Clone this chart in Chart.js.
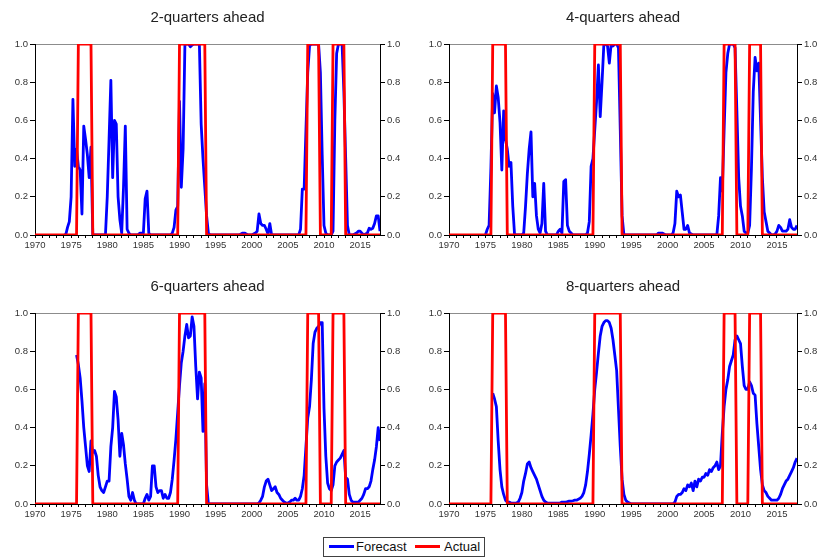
<!DOCTYPE html>
<html>
<head>
<meta charset="utf-8">
<title>Recession probability forecasts</title>
<script src="https://cdn.jsdelivr.net/npm/chart.js@4.4.1/dist/chart.umd.min.js"></script>
<style>
  html, body { margin: 0; padding: 0; background: #ffffff; }
  #page { position: relative; width: 818px; height: 559px; overflow: hidden; background: #ffffff;
          font-family: "Liberation Sans", Arial, Helvetica, sans-serif; }
  #page canvas { position: absolute; }
  #legend { position: absolute; left: 323px; top: 537px; width: 162px; height: 20px;
            box-sizing: border-box; border: 1px solid #404040; background: #ffffff; }
  #legend .swatch { position: absolute; top: 7px; height: 3px; }
  #legend .label { position: absolute; top: 1px; font-size: 13px; line-height: 16px; color: #111; white-space: nowrap; }
</style>
</head>
<body>
<div id="page">
  <canvas id="p0" width="409" height="262" style="left:0px;top:0px"></canvas>
  <canvas id="p1" width="408" height="262" style="left:410px;top:0px"></canvas>
  <canvas id="p2" width="409" height="262" style="left:0px;top:269px"></canvas>
  <canvas id="p3" width="408" height="262" style="left:410px;top:269px"></canvas>
  <div id="legend"></div>
</div>
<script>
// Quarterly observations, 1970Q1 .. 2017Q4 (4 values per year, one row = 4 years)
const firstYear = 1970;
const _ = null;

// Tick labels on the date axis
const labelYears = [1970, 1975, 1980, 1985, 1990, 1995, 2000, 2005, 2010, 2015];

const panelTitles = ['2-quarters ahead', '4-quarters ahead', '6-quarters ahead', '8-quarters ahead'];
const forecastName = 'Forecast';
const actualName = 'Actual';

// Recession indicator (0/1)
const actual = [
  0,0,0,0, 0,0,0,0, 0,0,0,0, 0,0,0,0,
  0,0,0,0, 0,0,0,0, 1,1,1,1, 1,1,1,1,
  0,0,0,0, 0,0,0,0, 0,0,0,0, 0,0,0,0,
  0,0,0,0, 0,0,0,0, 0,0,0,0, 0,0,0,0,
  0,0,0,0, 0,0,0,0, 0,0,0,0, 0,0,0,0,
  1,1,1,1, 1,1,1,1, 1,1,1,1, 1,1,1,0,
  0,0,0,0, 0,0,0,0, 0,0,0,0, 0,0,0,0,
  0,0,0,0, 0,0,0,0, 0,0,0,0, 0,0,0,0,
  0,0,0,0, 0,0,0,0, 0,0,0,0, 0,0,0,0,
  0,0,0,0, 0,0,0,1, 1,1,1,1, 1,1,0,0,
  0,0,0,0, 0,1,1,1, 1,1,1,1, 0,0,0,0,
  0,0,0,0, 0,0,0,0, 0,0,0,0, 0,0,0,0
];

// Forecast probability, 2 quarters ahead
const forecast2q = [
  _,_,_,_, _,_,_,_, _,_,_,_, _,_,_,_,
  0,0,0.04,0.07, 0.2,0.71,0.36,0.45, 0.36,0.34,0.11,0.57, 0.5,0.42,0.3,0.46,
  0,0,0,0, 0,0,0,0, 0.2,0.5,0.81,0.3, 0.6,0.58,0.2,0.08,
  0.01,0.25,0.57,0.03, 0.01,0,0,0, 0,0,0.01,0.01, 0.01,0.19,0.23,0.01,
  0,0,0,0, 0,0,0,0, 0,0,0,0, 0.01,0.04,0.13,0.15,
  0.7,0.25,0.45,1, 1,1,0.985,0.995, 1,1,1,1, 0.58,0.4,0.25,0.1,
  0.01,0,0,0, 0,0,0,0, 0,0,0,0, 0,0,0,0,
  0,0,0.005,0.01, 0.01,0.005,0,0, 0,0.005,0.01,0.02, 0.11,0.06,0.05,0.05,
  0.03,0.005,0.06,0, 0,0,0,0, 0,0,0,0, 0,0,0,0,
  0,0,0,0.03, 0.24,0.24,0.55,0.85, 0.99,1,1,1, 1,1,0.85,0.42,
  0.05,0.01,0,0, 0,0.02,0.6,0.95, 1,1,1,0.75, 0.4,0.05,0,0,
  0,0.005,0.01,0.02, 0.02,0.01,0,0.005, 0.01,0.035,0.03,0.035, 0.06,0.1,0.1,0.02
];

// Forecast probability, 4 quarters ahead
const forecast4q = [
  _,_,_,_, _,_,_,_, _,_,_,_, _,_,_,_,
  _,_,_,_, 0,0.03,0.05,0.35, 0.74,0.64,0.78,0.72, 0.59,0.34,0.65,0.5,
  0.45,0.36,0.38,0.15, 0,0,0,0, 0,0.01,0.15,0.32, 0.45,0.54,0.2,0.27,
  0.1,0.03,0.01,0.06, 0.27,0.02,0,0, 0,0,0,0, 0.02,0.03,0.01,0.28,
  0.29,0.05,0.02,0.01, 0,0,0,0, 0,0,0,0, 0.01,0.07,0.36,0.4,
  0.55,0.7,0.89,0.62, 0.8,1,1,0.99, 0.9,1,0.99,1, 1,0.98,0.55,0.1,
  0,0,0,0, 0,0,0,0, 0,0,0,0, 0,0,0,0,
  0,0,0,0.01, 0.01,0.01,0.005,0, 0,0,0,0.01, 0.06,0.23,0.2,0.21,
  0.12,0.03,0.03,0.05, 0.01,0.005,0,0, 0,0,0,0, 0,0,0,0,
  0,0,0,0, 0.1,0.3,0.23,0.55, 0.85,0.95,1,1, 1,0.98,0.65,0.3,
  0.15,0.1,0.02,0.01, 0.01,0.05,0.35,0.75, 0.93,0.86,0.9,0.6, 0.3,0.12,0.07,0.02,
  0.01,0,0,0.005, 0.02,0.05,0.04,0.02, 0.02,0.02,0.03,0.08, 0.04,0.03,0.03,0.05
];

// Forecast probability, 6 quarters ahead
const forecast6q = [
  _,_,_,_, _,_,_,_, _,_,_,_, _,_,_,_,
  _,_,_,_, _,_,_,0.78, 0.73,0.66,0.54,0.4, 0.3,0.2,0.17,0.33,
  0.27,0.28,0.25,0.15, 0.09,0.07,0.06,0.09, 0.12,0.12,0.3,0.4, 0.59,0.56,0.44,0.25,
  0.37,0.31,0.21,0.13, 0.04,0.02,0.06,0.02, 0,0,0,0, 0,0.03,0.05,0.02,
  0.04,0.2,0.2,0.09, 0.06,0.07,0.07,0.03, 0.05,0.03,0.03,0.06, 0.13,0.23,0.34,0.48,
  0.62,0.74,0.8,0.88, 0.94,0.87,0.88,0.98, 0.93,0.72,0.55,0.69, 0.66,0.38,0.63,0.1,
  0,0,0,0, 0,0,0,0, 0,0,0,0, 0,0,0,0,
  0,0,0,0, 0,0,0,0, 0,0,0,0, 0.005,0.02,0.04,0.09,
  0.12,0.13,0.1,0.07, 0.08,0.09,0.06,0.05, 0.03,0.02,0.01,0.005, 0.005,0.01,0.02,0.02,
  0.03,0.02,0.02,0.04, 0.08,0.15,0.3,0.45, 0.51,0.65,0.84,0.9, 0.92,0.93,0.95,0.95,
  0.5,0.25,0.11,0.08, 0.07,0.1,0.2,0.22, 0.23,0.24,0.26,0.28, 0.14,0.13,0.05,0.02,
  0.01,0.01,0.01,0.01, 0.02,0.03,0.05,0.08, 0.08,0.09,0.12,0.18, 0.23,0.3,0.4,0.33
];

// Forecast probability, 8 quarters ahead
const forecast8q = [
  _,_,_,_, _,_,_,_, _,_,_,_, _,_,_,_,
  _,_,_,_, _,_,_,_, 0.58,0.55,0.51,0.33, 0.18,0.09,0.05,0.02,
  0.01,0.01,0.005,0.005, 0.005,0.005,0.01,0.03, 0.06,0.12,0.16,0.21, 0.22,0.19,0.17,0.15,
  0.13,0.1,0.07,0.04, 0.02,0.01,0.005,0.005, 0.005,0.005,0.005,0.005, 0.005,0.005,0.01,0.01,
  0.01,0.012,0.015,0.015, 0.017,0.02,0.02,0.025, 0.03,0.04,0.06,0.1, 0.17,0.26,0.36,0.47,
  0.6,0.69,0.79,0.88, 0.93,0.95,0.96,0.96, 0.95,0.92,0.86,0.78, 0.7,0.5,0.3,0.13,
  0.05,0.02,0.01,0.005, 0,0,0,0, 0,0,0,0, 0,0,0,0,
  0,0,0,0, 0,0,0,0, 0,0,0,0, 0.01,0.04,0.05,0.05,
  0.06,0.08,0.07,0.1, 0.09,0.11,0.07,0.12, 0.09,0.13,0.12,0.14, 0.14,0.16,0.15,0.18,
  0.17,0.19,0.2,0.22, 0.18,0.2,0.37,0.51, 0.6,0.65,0.72,0.75, 0.78,0.86,0.88,0.86,
  0.84,0.72,0.62,0.6, 0.6,0.64,0.62,0.58, 0.57,0.42,0.3,0.18, 0.1,0.07,0.06,0.04,
  0.03,0.02,0.02,0.02, 0.02,0.03,0.05,0.08, 0.1,0.12,0.13,0.15, 0.17,0.19,0.22,0.24
];

const forecastColor = '#0000ff';
const actualColor = '#ff0000';

Chart.defaults.font.family = '"Liberation Sans", Arial, Helvetica, sans-serif';

const lastYear = firstYear + (actual.length - 1) / 4;
const minorYears = [];
for (let y = firstYear; y <= Math.floor(lastYear); y++) minorYears.push(y);

const toPoints = arr => arr.map((v, i) => ({ x: firstYear + i / 4, y: v }));

function yAxis(position, width) {
  return {
    type: 'linear', position: position, axis: 'y', min: 0, max: 1,
    afterFit: ax => { ax.width = width; },
    ticks: { stepSize: 0.2, padding: 2, color: '#333', font: { size: 9.5 },
             callback: v => Number(v).toFixed(1) },
    grid: { display: true, drawOnChartArea: false, drawTicks: true, tickLength: 5, color: '#000' },
    border: { display: true, color: '#000', width: 1 }
  };
}

function buildPanel(canvasId, title, forecast, leftWidth, rightWidth) {
  return new Chart(document.getElementById(canvasId), {
    type: 'line',
    data: {
      datasets: [
        { label: actualName, data: toPoints(actual), xAxisID: 'x', yAxisID: 'y',
          borderColor: actualColor, backgroundColor: actualColor, borderWidth: 2.8,
          pointRadius: 0, tension: 0, order: 0, borderJoinStyle: 'miter' },
        { label: forecastName, data: toPoints(forecast), xAxisID: 'x', yAxisID: 'y',
          borderColor: forecastColor, backgroundColor: forecastColor, borderWidth: 2.8,
          pointRadius: 0, tension: 0, order: 1, borderJoinStyle: 'round', spanGaps: false }
      ]
    },
    options: {
      responsive: false, animation: false, events: [],
      layout: { padding: 0 },
      plugins: {
        legend: { display: false },
        tooltip: { enabled: false },
        title: { display: true, text: title, fullSize: false, color: '#222',
                 font: { size: 15, weight: 'normal' }, padding: { top: 9, bottom: 17 } }
      },
      scales: {
        x: {
          type: 'linear', position: 'bottom', axis: 'x', min: firstYear, max: lastYear,
          afterBuildTicks: ax => { ax.ticks = minorYears.map(v => ({ value: v })); },
          afterFit: ax => { ax.height = 27; },
          ticks: { autoSkip: false, maxRotation: 0, minRotation: 0, padding: 2, color: '#333',
                   font: { size: 9.5 }, callback: v => labelYears.includes(v) ? String(v) : '' },
          grid: { display: true, drawOnChartArea: false, drawTicks: true, tickLength: 3, color: '#000' },
          border: { display: true, color: '#000', width: 1 }
        },
        xTop: {
          type: 'linear', position: 'top', axis: 'x', min: firstYear, max: lastYear,
          afterFit: ax => { ax.height = 0; },
          ticks: { display: false },
          grid: { display: false, drawTicks: false },
          border: { display: true, color: '#8c8c8c', width: 1 }
        },
        y: yAxis('left', leftWidth),
        y2: yAxis('right', rightWidth)
      }
    }
  });
}

buildPanel('p0', panelTitles[0], forecast2q, 35, 29);
buildPanel('p1', panelTitles[1], forecast4q, 39, 21);
buildPanel('p2', panelTitles[2], forecast6q, 35, 29);
buildPanel('p3', panelTitles[3], forecast8q, 39, 21);

// Shared legend below the panels
const legend = document.getElementById('legend');
[
  { name: forecastName, color: forecastColor, swatchLeft: 5, labelLeft: 32 },
  { name: actualName, color: actualColor, swatchLeft: 91, labelLeft: 120 }
].forEach(item => {
  const sw = document.createElement('span');
  sw.className = 'swatch';
  sw.style.left = item.swatchLeft + 'px';
  sw.style.width = '25px';
  sw.style.background = item.color;
  legend.appendChild(sw);
  const lb = document.createElement('span');
  lb.className = 'label';
  lb.style.left = item.labelLeft + 'px';
  lb.textContent = item.name;
  legend.appendChild(lb);
});
</script>
</body>
</html>
